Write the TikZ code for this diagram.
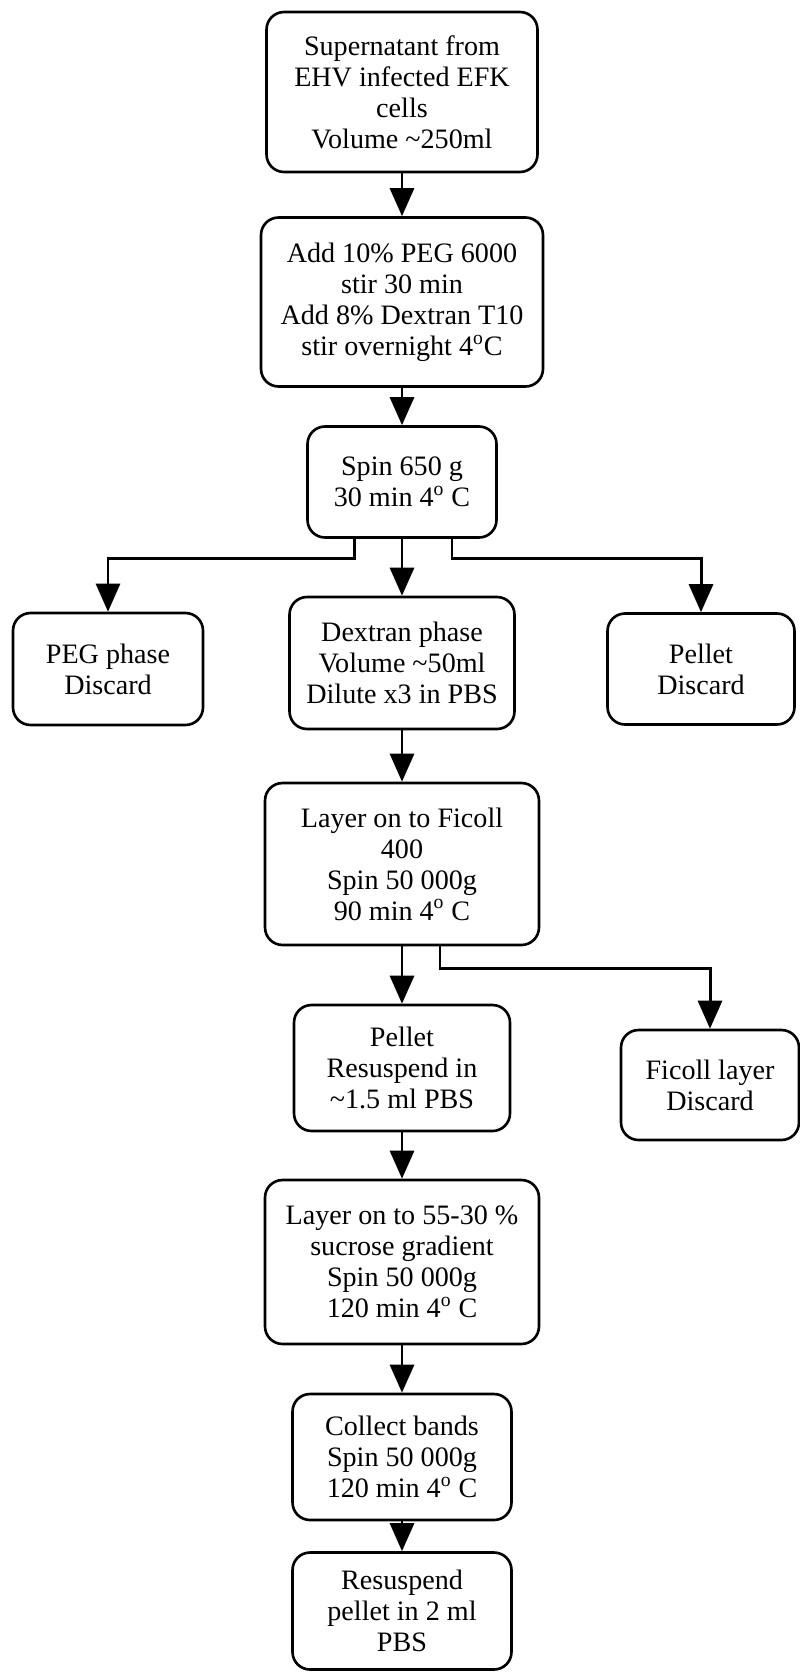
\documentclass[tikz,border=0pt]{standalone}
\usepackage{fontspec}
\setmainfont{Liberation Serif}
\usepackage{tikz}
\usetikzlibrary{arrows.meta}

\tikzset{
    stepbox/.style={draw, line width=1.5pt, rounded corners=0.35cm, align=center,
        inner sep=0pt, font=\fontsize{16}{17.6}\selectfont},
    flow/.style={line width=1.7pt, -{Triangle[length=0.56cm,width=0.48cm]}}
}

\begin{document}
\begin{tikzpicture}[x=0.02cm, y=-0.02cm]
    \useasboundingbox (0,0) rectangle (800,1677);

    % Main column
    \node[stepbox, minimum width=5.42cm, minimum height=3.2cm] (sup) at (402,92)
        {Supernatant from\\EHV infected EFK\\cells\\Volume \textasciitilde250ml};
    \node[stepbox, minimum width=5.64cm, minimum height=3.38cm] (add) at (402,302)
        {Add 10\% PEG 6000\\stir 30 min\\Add 8\% Dextran T10\\stir overnight 4\textsuperscript{o}C};
    \node[stepbox, minimum width=3.78cm, minimum height=2.22cm] (spin) at (402,482)
        {Spin 650 g\\30 min 4\textsuperscript{o} C};
    \node[stepbox, minimum width=4.5cm, minimum height=2.64cm] (dex) at (402,663)
        {Dextran phase\\Volume \textasciitilde50ml\\Dilute x3 in PBS};
    \node[stepbox, minimum width=5.48cm, minimum height=3.24cm] (ficoll) at (402,864)
        {Layer on to Ficoll\\400\\Spin 50 000g\\90 min 4\textsuperscript{o} C};
    \node[stepbox, minimum width=4.32cm, minimum height=2.52cm] (res) at (402,1068)
        {Pellet\\Resuspend in\\\textasciitilde1.5 ml PBS};
    \node[stepbox, minimum width=5.48cm, minimum height=3.28cm] (suc) at (402,1262)
        {Layer on to 55-30 \%\\sucrose gradient\\Spin 50 000g\\120 min 4\textsuperscript{o} C};
    \node[stepbox, minimum width=4.38cm, minimum height=2.52cm] (coll) at (402,1457)
        {Collect bands\\Spin 50 000g\\120 min 4\textsuperscript{o} C};
    \node[stepbox, minimum width=4.38cm, minimum height=2.34cm] (fin) at (402,1611)
        {Resuspend\\pellet in 2 ml\\PBS};

    % Side boxes
    \node[stepbox, minimum width=3.8cm, minimum height=2.24cm] (pegph) at (108,669)
        {PEG phase\\Discard};
    \node[stepbox, minimum width=3.74cm, minimum height=2.22cm] (pel) at (701,669)
        {Pellet\\Discard};
    \node[stepbox, minimum width=3.56cm, minimum height=2.2cm] (figl) at (710,1085)
        {Ficoll layer\\Discard};

    % Arrows down the main column
    \foreach \a/\b in {sup/add, add/spin, spin/dex, dex/ficoll, ficoll/res, res/suc, suc/coll, coll/fin} {
        \draw[flow] (\a) -- (\b);
    }

    % Branches
    \draw[flow] ([xshift=-0.96cm]spin.south) -- ++(0,20) -| (pegph.north);
    \draw[flow] ([xshift=1.0cm]spin.south) -- ++(0,20) -| (pel.north);
    \draw[flow] ([xshift=0.76cm]ficoll.south) -- ++(0,22) -| (figl.north);
\end{tikzpicture}
\end{document}
